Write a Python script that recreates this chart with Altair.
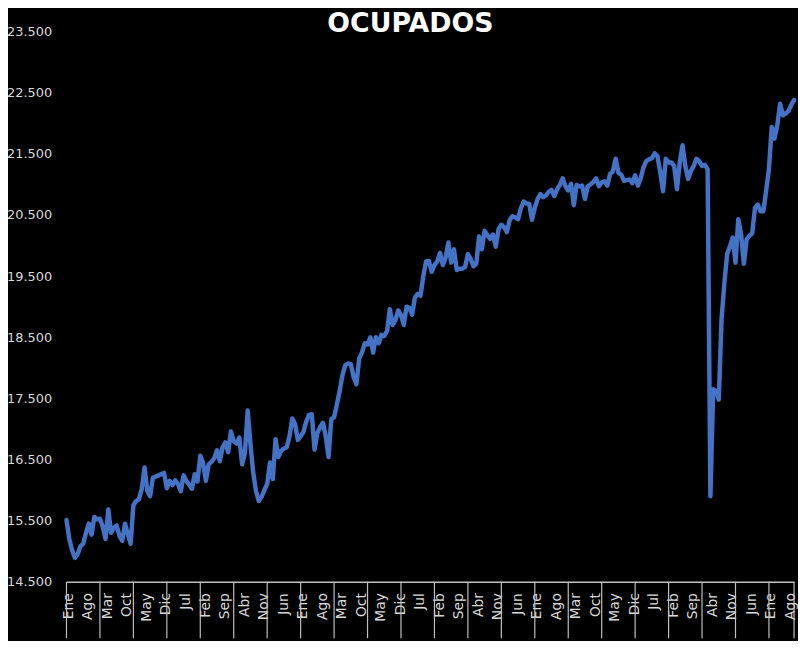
import altair as alt
import pandas as pd

# ---- data (thousands of employed persons), monthly Jan-2001 .. Oct-2022 ----
meses = ["Ene", "Feb", "Mar", "Abr", "May", "Jun", "Jul", "Ago", "Sep", "Oct", "Nov", "Dic"]
anio_inicio = 2001

ocupados_2001 = [15510, 15200, 15020, 14890, 14950, 15080, 15120, 15300, 15450, 15270, 15560, 15520]
ocupados_2002 = [15530, 15400, 15200, 15680, 15300, 15380, 15420, 15250, 15170, 15450, 15280, 15120]
ocupados_2003 = [15750, 15820, 15850, 16020, 16370, 15990, 15900, 16200, 16220, 16240, 16260, 16280]
ocupados_2004 = [16030, 16150, 16080, 16160, 16100, 15980, 16240, 16150, 16090, 16020, 16260, 16140]
ocupados_2005 = [16560, 16440, 16150, 16420, 16460, 16520, 16650, 16470, 16700, 16780, 16620, 16960]
ocupados_2006 = [16800, 16760, 16860, 16420, 16600, 17300, 16750, 16280, 15980, 15820, 15890, 16000]
ocupados_2007 = [16100, 16450, 16180, 16830, 16540, 16640, 16680, 16700, 16880, 17170, 17080, 16820]
ocupados_2008 = [16880, 16950, 17120, 17230, 17240, 16660, 16930, 17030, 17100, 16880, 16540, 17160]
ocupados_2009 = [17190, 17400, 17620, 17880, 18040, 18070, 18060, 17850, 17730, 18150, 18250, 18400]
ocupados_2010 = [18380, 18500, 18250, 18500, 18400, 18540, 18520, 18600, 18960, 18700, 18780, 18940]
ocupados_2011 = [18860, 18700, 19000, 18980, 18870, 19150, 19210, 19180, 19500, 19740, 19750, 19570]
ocupados_2012 = [19680, 19740, 19880, 19680, 19800, 20050, 19720, 19940, 19600, 19620, 19620, 19650]
ocupados_2013 = [19860, 19780, 19660, 19700, 20150, 19940, 20240, 20170, 20110, 20180, 19980, 20270]
ocupados_2014 = [20340, 20300, 20220, 20420, 20480, 20460, 20430, 20610, 20720, 20690, 20680, 20420]
ocupados_2015 = [20620, 20760, 20840, 20790, 20820, 20880, 20910, 20810, 20920, 20990, 21100, 20970]
ocupados_2016 = [20900, 21010, 20660, 20990, 20970, 20980, 20760, 20970, 21000, 21040, 21100, 20970]
ocupados_2017 = [21030, 21050, 20980, 21170, 21210, 21420, 21190, 21160, 21060, 21070, 21080, 21020]
ocupados_2018 = [21150, 20980, 21100, 21280, 21380, 21410, 21430, 21510, 21460, 21200, 20890, 21420]
ocupados_2019 = [21360, 21360, 21300, 20920, 21360, 21640, 21300, 21090, 21220, 21300, 21420, 21380]
ocupados_2020 = [21300, 21320, 21250, 15900, 17650, 17620, 17480, 18800, 19380, 19860, 19990, 20130]
ocupados_2021 = [19720, 20430, 20190, 19700, 20100, 20160, 20200, 20620, 20670, 20560, 20560, 20900]
ocupados_2022 = [21250, 21940, 21750, 21970, 22320, 22130, 22160, 22200, 22300, 22380]

y_ticks = [14500, 15500, 16500, 17500, 18500, 19500, 20500, 21500, 22500, 23500]
titulo = "OCUPADOS"

# ---- build table ----
series = (ocupados_2001 + ocupados_2002 + ocupados_2003 + ocupados_2004 + ocupados_2005
          + ocupados_2006 + ocupados_2007 + ocupados_2008 + ocupados_2009 + ocupados_2010
          + ocupados_2011 + ocupados_2012 + ocupados_2013 + ocupados_2014 + ocupados_2015
          + ocupados_2016 + ocupados_2017 + ocupados_2018 + ocupados_2019 + ocupados_2020
          + ocupados_2021 + ocupados_2022)
n = len(series)
df = pd.DataFrame({
    "m": list(range(n)),
    "fecha": [f"{anio_inicio + i // 12}-{i % 12 + 1:02d}" for i in range(n)],
    "ocupados": series,
})
label_idx = list(range(0, n, 7))                 # a label every 7 months
tick_idx = list(range(0, n, 12)) + [n - 1]       # a tick every January + axis end
ticks_df = pd.DataFrame({"m": tick_idx})
title_df = pd.DataFrame({"t": [titulo]})

W, H = 734, 555
PAD = {"left": 59, "top": 21, "right": 4, "bottom": 57}
AX = "#bfbfbf"
TXT = "#d9d9d9"
FONT = "DejaVu Sans"

meses_js = "[" + ",".join(f"'{m}'" for m in meses) + "]"
x_scale = alt.Scale(domain=[0, n - 1], nice=False, zero=False)
y_scale = alt.Scale(domain=[y_ticks[0], y_ticks[-1]], nice=False, zero=False)

x_axis = alt.Axis(
    values=label_idx, labelExpr=f"{meses_js}[datum.value % 12]",
    labelAngle=270, ticks=False, tickSize=0, grid=False,
    domainColor=AX, domainWidth=1.5, labelColor=TXT, labelFont=FONT,
    labelFontSize=14, labelPadding=11, labelOffset=2, labelOverlap=False,
    labelFlush=False, labelBound=False, title=None)

line = alt.Chart(df).mark_line(
    color="#4472C4", strokeWidth=4.5, strokeJoin="round", strokeCap="round"
).encode(
    x=alt.X("m:Q", scale=x_scale, axis=x_axis),
    y=alt.Y("ocupados:Q", scale=y_scale, axis=alt.Axis(
        values=y_ticks, labelExpr="replace(format(datum.value, ','), ',', '.')",
        grid=False, domain=False, ticks=False, tickSize=0, labelPadding=15,
        labelColor=TXT, labelFont=FONT, labelFontSize=13, labelOverlap=False,
        title=None)),
    tooltip=["fecha:N", "ocupados:Q"],
)

tick_rules = alt.Chart(ticks_df).mark_rule(color=AX, strokeWidth=1.2).encode(
    x=alt.X("m:Q", scale=x_scale, axis=x_axis),
    y=alt.value(H),
    y2=alt.value(H + PAD["bottom"]),
)

title_mark = alt.Chart(title_df).mark_text(
    font=FONT, fontSize=27, fontWeight="bold", color="white",
    align="center", baseline="alphabetic"
).encode(
    text="t:N",
    x=alt.value(347),
    y=alt.value(0),
)

chart = alt.layer(line, tick_rules, title_mark).properties(
    width=W, height=H,
    autosize=alt.AutoSizeParams(type="none"),
    padding=PAD,
    background="#000000",
).configure_view(stroke=None)

chart.save("out.html", embed_options={"renderer": "svg", "actions": False})
